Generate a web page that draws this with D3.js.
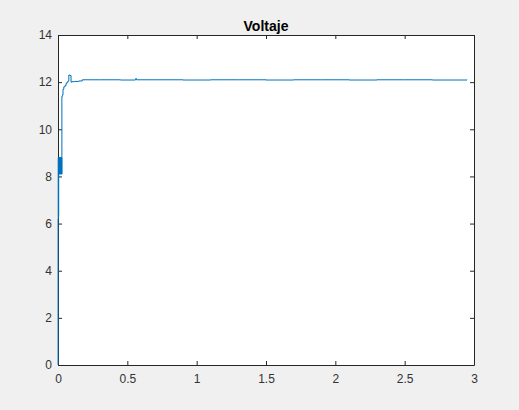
<!DOCTYPE html>
<html>
<head>
<meta charset="utf-8">
<script src="https://cdn.jsdelivr.net/npm/d3@7"></script>
<style>
  body { margin: 0; background: #f0f0f0; }
  svg { display: block; font-family: 'Liberation Sans', Arial, sans-serif; }
</style>
</head>
<body>
<svg id="canvas"></svg>
<script>
// Chart title
var titleText = 'Voltaje';

// Time samples (s)
var times = [0, 0.0005, 0.002, 0.003, 0.005, 0.006, 0.008, 0.009, 0.011, 0.012,
  0.014, 0.015, 0.017, 0.018, 0.020, 0.021, 0.023, 0.024, 0.026, 0.027,
  0.028, 0.032, 0.036, 0.042, 0.050, 0.058, 0.065, 0.072, 0.078, 0.086,
  0.094, 0.100, 0.120, 0.150, 0.175, 0.300, 0.450, 0.556, 0.560, 0.566,
  0.700, 0.900, 1.100, 1.300, 1.500, 1.700, 1.900, 2.100, 2.300, 2.500,
  2.700, 2.950];

// Voltage samples (V)
var volts = [0, 6.2, 8.8, 6.3, 8.8, 8.1, 8.8, 8.1, 8.8, 8.1,
  8.8, 8.1, 8.8, 8.1, 8.8, 8.1, 8.8, 8.1, 8.8, 8.1,
  11.4, 11.45, 11.7, 11.8, 11.85, 11.95, 12.0, 12.05, 12.3, 12.28,
  12.0, 12.02, 12.03, 12.05, 12.1, 12.1, 12.09, 12.1, 12.15, 12.1,
  12.1, 12.09, 12.1, 12.1, 12.09, 12.1, 12.1, 12.09, 12.1, 12.1,
  12.09, 12.1];

// Tick values
var xTicks = [0, 0.5, 1, 1.5, 2, 2.5, 3];
var yTicks = [0, 2, 4, 6, 8, 10, 12, 14];

var canvasWidth = 519;
var canvasHeight = 410;
var margin = { top: 35, right: 45, bottom: 45, left: 58 };
var axisColor = '#262626';

var data = times.map(function(t, i) {
  return { t: t, v: volts[i] };
});

var svg = d3.select('#canvas')
  .attr('width', canvasWidth)
  .attr('height', canvasHeight);

var xScale = d3.scaleLinear()
  .domain([0, 3])
  .range([margin.left, canvasWidth - margin.right]);

var yScale = d3.scaleLinear()
  .domain([0, 14])
  .range([canvasHeight - margin.bottom, margin.top]);

// Plot area
svg.append('rect')
  .attr('x', xScale(0))
  .attr('y', yScale(14))
  .attr('width', xScale(3) - xScale(0))
  .attr('height', yScale(0) - yScale(14))
  .attr('fill', '#fff');

// Axes
var xAxis = d3.axisBottom(xScale).tickValues(xTicks).tickSize(-4).tickSizeOuter(0).tickPadding(9)
  .tickFormat(d3.format('~g'));
var yAxis = d3.axisLeft(yScale).tickValues(yTicks).tickSize(-4).tickSizeOuter(0).tickPadding(6);
var xTop = d3.axisTop(xScale).tickValues(xTicks).tickSize(-4).tickSizeOuter(0).tickFormat('');
var yRight = d3.axisRight(yScale).tickValues(yTicks).tickSize(-4).tickSizeOuter(0).tickFormat('');

function styleAxis(g) {
  g.selectAll('path, line').attr('stroke', axisColor);
  g.selectAll('text')
    .attr('fill', '#333')
    .style('font-size', '12px')
    .style('font-family', "'Liberation Sans', Arial, sans-serif");
}

svg.append('g')
  .attr('transform', 'translate(0,' + yScale(0) + ')')
  .call(xAxis).call(styleAxis);

svg.append('g')
  .attr('transform', 'translate(' + xScale(0) + ',0)')
  .call(yAxis).call(styleAxis);

svg.append('g')
  .attr('transform', 'translate(0,' + yScale(14) + ')')
  .call(xTop).call(styleAxis);

svg.append('g')
  .attr('transform', 'translate(' + xScale(3) + ',0)')
  .call(yRight).call(styleAxis);

// Data line (drawn over the axes, as in the original figure)
var line = d3.line()
  .x(function(d) { return xScale(d.t); })
  .y(function(d) { return yScale(d.v); })
  .curve(d3.curveStepAfter);

svg.append('path')
  .datum(data)
  .attr('d', line)
  .attr('fill', 'none')
  .attr('stroke', '#0072bd')
  .attr('stroke-width', 1);

// Title
svg.append('text')
  .attr('x', (xScale(0) + xScale(3)) / 2)
  .attr('y', yScale(14) - 4)
  .attr('text-anchor', 'middle')
  .attr('fill', '#000')
  .style('font-size', '14px')
  .style('font-weight', 'bold')
  .text(titleText);
</script>
</body>
</html>
